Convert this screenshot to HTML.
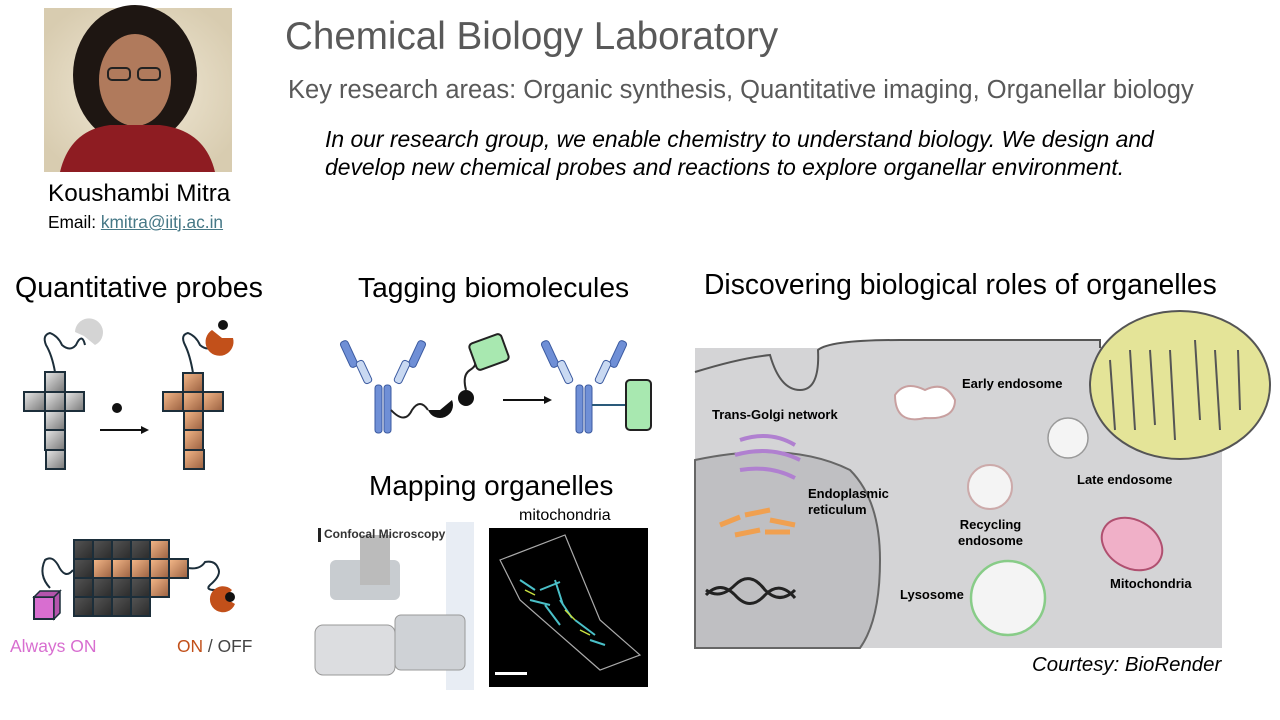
<!DOCTYPE html>
<html><head><meta charset="utf-8"><style>
body{margin:0;width:1280px;height:720px;background:#fff;overflow:hidden;position:relative;font-family:"Liberation Sans",sans-serif}
.t{position:absolute;white-space:nowrap}
</style></head><body>
<svg width="1280" height="720" style="position:absolute;left:0;top:0">
<defs>
<linearGradient id="gt" x1="0" y1="0" x2="1" y2="1"><stop offset="0" stop-color="#e8e8e8"/><stop offset="1" stop-color="#777"/></linearGradient>
<linearGradient id="ot" x1="0" y1="0" x2="1" y2="1"><stop offset="0" stop-color="#f5b98a"/><stop offset="1" stop-color="#9a6040"/></linearGradient>
<linearGradient id="dt" x1="0" y1="0" x2="1" y2="1"><stop offset="0" stop-color="#555"/><stop offset="1" stop-color="#2a2a2a"/></linearGradient>
<radialGradient id="ph" cx="0.5" cy="0.5" r="0.6"><stop offset="0" stop-color="#f2ead8"/><stop offset="1" stop-color="#d8ccb0"/></radialGradient>
</defs>
<rect x="44" y="8" width="188" height="164" fill="url(#ph)"/>
<ellipse cx="135" cy="75" rx="62" ry="70" fill="#1e1612"/>
<ellipse cx="135" cy="80" rx="36" ry="46" fill="#b07a5c"/>
<rect x="108" y="68" width="22" height="12" rx="4" fill="none" stroke="#222" stroke-width="2"/>
<rect x="138" y="68" width="22" height="12" rx="4" fill="none" stroke="#222" stroke-width="2"/>
<path d="M60 172 Q70 130 110 125 L160 125 Q205 130 215 172Z" fill="#8e1c22"/>
<g stroke="#1c2e3a" stroke-width="2">
<g fill="url(#gt)">
<rect x="45" y="372" width="20" height="20"/><rect x="24" y="392" width="21" height="19"/><rect x="45" y="392" width="20" height="19"/><rect x="65" y="392" width="19" height="19"/><rect x="45" y="411" width="20" height="19"/><rect x="45" y="430" width="20" height="20"/><rect x="46" y="450" width="19" height="19"/>
</g>
<g fill="url(#ot)">
<rect x="183" y="373" width="20" height="19"/><rect x="163" y="392" width="20" height="19"/><rect x="183" y="392" width="20" height="19"/><rect x="203" y="392" width="20" height="19"/><rect x="184" y="411" width="19" height="19"/><rect x="184" y="430" width="19" height="20"/><rect x="184" y="450" width="20" height="19"/>
</g>
</g>
<path d="M55 372 Q52 355 46 345 Q42 335 50 333 Q58 336 62 345 Q70 352 76 345 Q82 332 85 345" fill="none" stroke="#1c2e3a" stroke-width="2"/>
<path d="M75 332 A14 14 0 1 1 95 345 L84 336Z" fill="#d4d4d4"/>
<path d="M193 373 Q190 355 185 345 Q180 335 188 333 Q196 336 200 345 Q208 352 214 345" fill="none" stroke="#1c2e3a" stroke-width="2"/>
<path d="M212 330 A14 14 0 1 0 233 338 L222 338Z" fill="#c2501a"/>
<circle cx="223" cy="325" r="5" fill="#111"/>
<circle cx="117" cy="408" r="5" fill="#111"/>
<line x1="100" y1="430" x2="142" y2="430" stroke="#111" stroke-width="2"/><path d="M149 430 L141 426 L141 434Z" fill="#111"/>
<g stroke="#1c2e3a" stroke-width="2">
<g fill="url(#dt)">
<rect x="74" y="540" width="19" height="19"/><rect x="93" y="540" width="19" height="19"/><rect x="112" y="540" width="19" height="19"/><rect x="131" y="540" width="19" height="19"/>
<rect x="74" y="559" width="19" height="19"/>
<rect x="74" y="578" width="19" height="19"/><rect x="93" y="578" width="19" height="19"/><rect x="112" y="578" width="19" height="19"/><rect x="131" y="578" width="19" height="19"/>
<rect x="74" y="597" width="19" height="19"/><rect x="93" y="597" width="19" height="19"/><rect x="112" y="597" width="19" height="19"/><rect x="131" y="597" width="19" height="19"/>
</g>
<g fill="url(#ot)">
<rect x="150" y="540" width="19" height="19"/><rect x="93" y="559" width="19" height="19"/><rect x="112" y="559" width="19" height="19"/><rect x="131" y="559" width="19" height="19"/><rect x="150" y="559" width="19" height="19"/><rect x="169" y="559" width="19" height="19"/><rect x="150" y="578" width="19" height="19"/>
</g>
</g>
<path d="M73 570 Q65 580 58 565 Q52 555 45 560 Q38 575 50 588" fill="none" stroke="#1c2e3a" stroke-width="2"/>
<path d="M188 568 Q200 570 205 562 Q215 560 218 568 Q222 575 210 585 Q205 590 215 590" fill="none" stroke="#1c2e3a" stroke-width="2"/>
<rect x="34" y="597" width="20" height="22" fill="#d86ed0" stroke="#1c2e3a" stroke-width="2"/><path d="M34 597 L40 591 L60 591 L54 597Z M54 597 L60 591 L60 613 L54 619Z" fill="#b454ac" stroke="#1c2e3a" stroke-width="1.5"/>
<path d="M232 590 A13 13 0 1 0 235 604 L225 598Z" fill="#c2501a"/><circle cx="230" cy="597" r="5" fill="#111"/>
<g fill="#6f8fd6" stroke="#3b5aa0" stroke-width="1">
<rect x="375" y="385" width="7" height="48" rx="3"/><rect x="384" y="385" width="7" height="48" rx="3"/>
<rect x="345" y="340" width="8" height="28" rx="3" transform="rotate(-25 349 354)"/><rect x="413" y="340" width="8" height="28" rx="3" transform="rotate(25 417 354)"/>
<rect x="576" y="385" width="7" height="48" rx="3"/><rect x="585" y="385" width="7" height="48" rx="3"/>
<rect x="546" y="340" width="8" height="28" rx="3" transform="rotate(-25 550 354)"/><rect x="614" y="340" width="8" height="28" rx="3" transform="rotate(25 618 354)"/>
</g>
<g fill="#c9d9f2" stroke="#3b5aa0"><rect x="360" y="360" width="8" height="24" rx="3" transform="rotate(-25 364 372)"/><rect x="398" y="360" width="8" height="24" rx="3" transform="rotate(25 402 372)"/><rect x="561" y="360" width="8" height="24" rx="3" transform="rotate(-25 565 372)"/><rect x="599" y="360" width="8" height="24" rx="3" transform="rotate(25 603 372)"/></g>
<path d="M391 410 Q405 425 412 410 Q420 398 428 410" fill="none" stroke="#222" stroke-width="2"/>
<path d="M428 410 A12 12 0 1 0 452 400 L440 410Z" fill="#111"/>
<circle cx="466" cy="398" r="8" fill="#111"/>
<path d="M466 390 Q462 375 470 370 Q478 365 474 360" fill="none" stroke="#222" stroke-width="2"/>
<rect x="472" y="338" width="34" height="28" rx="4" fill="#a8e8b0" stroke="#222" stroke-width="2" transform="rotate(-20 489 352)"/>
<line x1="503" y1="400" x2="545" y2="400" stroke="#111" stroke-width="2"/><path d="M552 400 L544 396 L544 404Z" fill="#111"/>
<line x1="592" y1="405" x2="626" y2="405" stroke="#2a5a7a" stroke-width="2"/>
<rect x="626" y="380" width="25" height="50" rx="4" fill="#a8e8b0" stroke="#222" stroke-width="2"/>
<rect x="446" y="522" width="28" height="168" fill="#e8edf4"/>
<rect x="330" y="560" width="70" height="40" rx="6" fill="#c8ccd0"/>
<rect x="315" y="625" width="80" height="50" rx="8" fill="#dcdde0" stroke="#999"/>
<rect x="395" y="615" width="70" height="55" rx="6" fill="#cfd2d6" stroke="#999"/>
<rect x="360" y="535" width="30" height="50" fill="#bbb"/>
<rect x="318" y="528" width="3" height="14" fill="#222"/>
<rect x="489" y="528" width="159" height="159" fill="#000"/>
<path d="M500 560 L565 535 L600 620 L640 655 L600 670 L520 600Z" fill="none" stroke="#aaa" stroke-width="1.2"/>
<g stroke="#4ac0c8" stroke-width="2"><path d="M520 580 l15 10 M540 590 l20 -8 M545 605 l15 20 M560 600 l12 18 M575 620 l20 15 M530 600 l20 5 M555 580 l8 25 M590 640 l15 5"/></g>
<g stroke="#c8e040" stroke-width="1.5"><path d="M525 590 l10 5 M565 610 l10 10 M580 630 l10 5"/></g>
<rect x="495" y="672" width="32" height="3" fill="#fff"/>
<rect x="695" y="348" width="527" height="300" fill="#d4d4d6"/>
<path d="M695 372 Q740 358 770 355 Q780 390 800 390 Q820 390 818 350 Q830 340 900 340 L1100 340 L1100 348" fill="#d4d4d6" stroke="#555" stroke-width="2"/>
<path d="M695 460 Q790 440 850 470 Q880 500 880 560 Q880 620 860 648 L695 648Z" fill="#bfbfc2" stroke="#666" stroke-width="2"/>
<path d="M706 590 Q720 600 735 585 Q750 570 765 590 Q780 605 795 590" fill="none" stroke="#222" stroke-width="3"/>
<path d="M706 595 Q720 580 735 595 Q750 612 765 595 Q780 580 795 598" fill="none" stroke="#222" stroke-width="3"/>
<ellipse cx="1180" cy="385" rx="90" ry="74" fill="#e4e498" stroke="#555" stroke-width="2"/>
<path d="M1110 360 L1115 430 M1130 350 L1135 430 M1150 350 L1155 425 M1170 350 L1175 440 M1195 340 L1200 420 M1215 350 L1220 430 M1238 350 L1240 410" stroke="#555" stroke-width="2"/>
<path d="M895 395 Q905 380 925 390 Q945 380 955 400 Q955 420 925 418 Q895 425 895 395Z" fill="#fff" stroke="#c8a0a0" stroke-width="2"/>
<circle cx="1068" cy="438" r="20" fill="#f4f4f4" stroke="#999" stroke-width="1.5"/>
<circle cx="990" cy="487" r="22" fill="#f4f4f4" stroke="#caa" stroke-width="2"/>
<circle cx="1008" cy="598" r="37" fill="#f4f4f4" stroke="#8c8" stroke-width="2.5"/>
<ellipse cx="1132" cy="544" rx="32" ry="24" transform="rotate(30 1132 544)" fill="#f0b0c8" stroke="#b05070" stroke-width="2"/>
<g fill="none" stroke="#b080d0" stroke-width="4"><path d="M740 440 Q770 430 795 445"/><path d="M735 455 Q770 445 800 460"/><path d="M740 470 Q770 465 795 478"/></g>
<g fill="none" stroke="#f0a050" stroke-width="5"><path d="M720 525 l20 -8 M745 515 l25 -5 M770 520 l25 5 M735 535 l25 -5 M765 532 l25 0"/></g>
</svg>
<div class="t" style="left:285px;top:15px;font-size:38.6px;color:#595959">Chemical Biology Laboratory</div>
<div class="t" style="left:288px;top:76px;font-size:25.5px;color:#595959">Key research areas: Organic synthesis, Quantitative imaging, Organellar biology</div>
<div class="t" style="left:325px;top:125px;font-size:22.9px;font-style:italic;line-height:28px;color:#000">In our research group, we enable chemistry to understand biology. We design and<br>develop new chemical probes and reactions to explore organellar environment.</div>
<div class="t" style="left:48px;top:180px;font-size:24.3px">Koushambi Mitra</div>
<div class="t" style="left:48px;top:212px;font-size:17.3px">Email: <span style="color:#467886;text-decoration:underline">kmitra@iitj.ac.in</span></div>
<div class="t" style="left:15px;top:272px;font-size:28.6px">Quantitative probes</div>
<div class="t" style="left:358px;top:271px;font-size:28.2px">Tagging biomolecules</div>
<div class="t" style="left:704px;top:268px;font-size:28.3px">Discovering biological roles of organelles</div>
<div class="t" style="left:369px;top:470px;font-size:28px">Mapping organelles</div>
<div class="t" style="left:519px;top:507px;font-size:16px">mitochondria</div>
<div class="t" style="left:324px;top:527px;font-size:12px;font-weight:bold;color:#333">Confocal Microscopy</div>
<div class="t" style="left:10px;top:636px;font-size:17.5px;color:#d86ed0">Always ON</div>
<div class="t" style="left:177px;top:636px;font-size:17.4px;color:#444"><span style="color:#c2501a">ON</span> / OFF</div>
<div class="t" style="left:1032px;top:654px;font-size:20.4px;font-style:italic">Courtesy: BioRender</div>
<div class="t" style="left:962px;top:376px;font-size:13px;font-weight:bold">Early endosome</div>
<div class="t" style="left:712px;top:407px;font-size:13px;font-weight:bold">Trans-Golgi network</div>
<div class="t" style="left:1077px;top:472px;font-size:13px;font-weight:bold">Late endosome</div>
<div class="t" style="left:808px;top:486px;font-size:13px;font-weight:bold;line-height:16px">Endoplasmic<br>reticulum</div>
<div class="t" style="left:958px;top:517px;font-size:13px;font-weight:bold;line-height:16px;text-align:center">Recycling<br>endosome</div>
<div class="t" style="left:1110px;top:576px;font-size:13px;font-weight:bold">Mitochondria</div>
<div class="t" style="left:900px;top:587px;font-size:13px;font-weight:bold">Lysosome</div>
</body></html>
